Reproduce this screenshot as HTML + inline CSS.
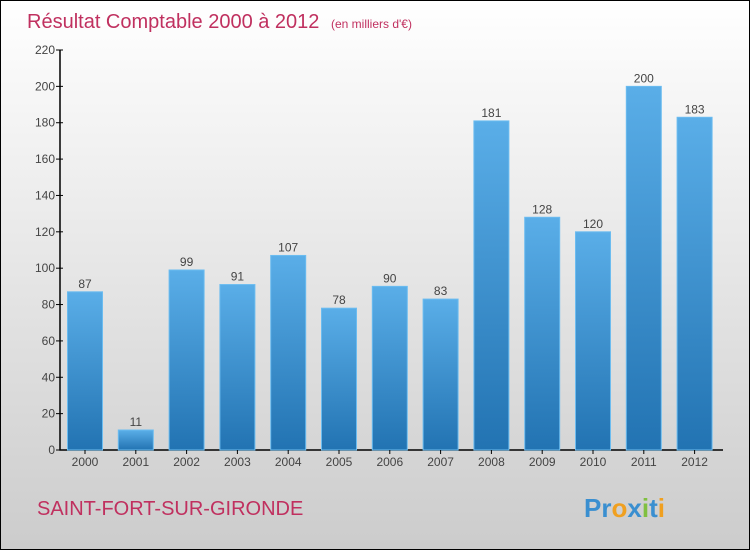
<!DOCTYPE html>
<html><head><meta charset="utf-8"><style>
body{margin:0}
#c{width:748px;height:548px;border:1px solid #000;background:linear-gradient(#fff,#ccc);position:relative;font-family:"Liberation Sans",sans-serif;overflow:hidden}
</style></head><body>
<div id="c">
<svg id="s" width="748" height="548" style="position:absolute;left:0;top:0">
<defs><linearGradient id="g" x1="0" y1="0" x2="0" y2="1"><stop offset="0" stop-color="#5aaee8"/><stop offset="1" stop-color="#2273b2"/></linearGradient></defs>
<text x="26" y="27" font-size="20" fill="#c0305f">Résultat Comptable 2000 à 2012 <tspan font-size="12" dx="6">(en milliers d'€)</tspan></text>
<text x="36" y="514" font-size="20" fill="#c0305f">SAINT-FORT-SUR-GIRONDE</text>
<text x="583" y="516" font-size="26" font-weight="bold" fill="#3a8fd0"><tspan fill="#3a8fd0">Pr</tspan><tspan fill="#f0a020">o</tspan><tspan fill="#3a8fd0">x</tspan><tspan fill="#80c040">i</tspan><tspan fill="#3a8fd0">t</tspan><tspan fill="#f0a020">i</tspan></text>
<g id="plot"></g>
</svg></div>
<script>
const categories=["2000","2001","2002","2003","2004","2005","2006","2007","2008","2009","2010","2011","2012"];
const values=[87,11,99,91,107,78,90,83,181,128,120,200,183];
const yTicks=[0,20,40,60,80,100,120,140,160,180,200,220];
const NS="http://www.w3.org/2000/svg";
const plotG=document.getElementById('plot');
const x0=59,y0=449,yTop=49,ymax=220,step=50.8,bw=35;
const y=v=>y0-(y0-yTop)*v/ymax;
const xc=i=>x0+25+i*step;
function mk(t,a){const e=document.createElementNS(NS,t);for(const k in a)e.setAttribute(k,a[k]);plotG.appendChild(e);return e;}
let ax=mk('path',{d:`M${x0} ${yTop}V${y0}H722`,stroke:'#000',fill:'none','stroke-width':1.5});


yTicks.forEach(v=>{
 let t=mk('line',{x1:x0-4,x2:x0+3,y1:y(v),y2:y(v),stroke:'#000'});
 
 
 let l=mk('text',{x:x0-5,y:y(v)+4,'font-size':12,'text-anchor':'end',fill:'#444'});l.textContent=v;
 
 
});
categories.forEach((c,i)=>{
 let b=mk('rect',{x:xc(i)-bw/2,y:y(values[i]),width:bw,height:y0-y(values[i]),fill:'url(#g)',stroke:'#6bbcf0','stroke-width':1});
 
 
 let t=mk('line',{x1:xc(i),x2:xc(i),y1:y0,y2:y0+4,stroke:'#000'});
 
 
 let l=mk('text',{x:xc(i),y:y0+16,'font-size':12,'text-anchor':'middle',fill:'#444'});l.textContent=c;
 
 
 let v=mk('text',{x:xc(i),y:y(values[i])-4,'font-size':12,'text-anchor':'middle',fill:'#444'});v.textContent=values[i];
 
 
});
</script>
</body></html>
